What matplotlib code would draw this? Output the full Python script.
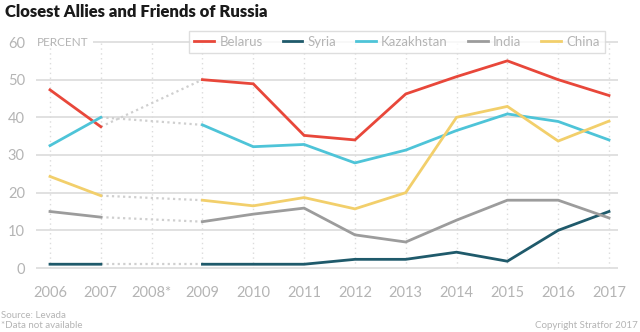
import numpy as np
import matplotlib
matplotlib.use("Agg")
from matplotlib import pyplot as plt

plt.rcParams['font.family'] = ['Lato', 'DejaVu Sans']

years = [2006, 2007, 2008, 2009, 2010, 2011, 2012, 2013, 2014, 2015, 2016, 2017]
year_labels = ['2006', '2007', '2008*', '2009', '2010', '2011', '2012', '2013',
               '2014', '2015', '2016', '2017']
nan = np.nan
belarus = [47.3, 37.5, nan, 50, 48.9, 35.2, 34, 46.2, 50.8, 55, 50, 45.8]
syria = [1, 1, nan, 1, 1, 1, 2.3, 2.3, 4.2, 1.8, 10, 15]
kazakhstan = [32.5, 40, nan, 38, 32.2, 32.8, 27.9, 31.3, 36.5, 40.9, 38.9, 34]
india = [15, 13.5, nan, 12.3, 14.3, 15.9, 8.8, 6.9, 12.7, 18, 18, 13.3]
china = [24.3, 19.2, nan, 18, 16.5, 18.7, 15.7, 20, 40, 42.9, 33.7, 39]

series = [('Belarus', belarus, '#e8473a'),
          ('Syria', syria, '#1f5a6b'),
          ('Kazakhstan', kazakhstan, '#4ec4d8'),
          ('India', india, '#9c9c9c'),
          ('China', china, '#f2cf6b')]

grid_c = '#dcdcdc'
text_c = '#b4b4b4'

fig = plt.figure(figsize=(6.4, 3.32), dpi=100)
ax = fig.add_axes([36 / 640, (332 - 268) / 332, (618 - 36) / 640, (268 - 42) / 332])
x0 = 2006 - 14 / 50.8
x1 = 2017 + 9 / 50.8
ax.set_xlim(x0, x1)
ax.set_ylim(0, 60)
for s in ax.spines.values():
    s.set_visible(False)

# grid
for y in range(0, 60, 10):
    ax.hlines(y, x0, x1, color=grid_c, lw=1.2, zorder=0, clip_on=False)
ax.hlines(60, 2006 + 43 / 50.8, x1, color=grid_c, lw=1.2, zorder=0, clip_on=False)
for yr in years:
    ax.vlines(yr, 0, 60, color=grid_c, lw=1, linestyles=(0, (1, 2.5)), zorder=0)
ax.text(x0 + 1 / 50.8, 60, 'PERCENT', color=text_c, fontsize=8.5, va='center', ha='left')

# lines and missing-data connectors
for name, vals, col in series:
    ax.plot([2007, 2009], [vals[1], vals[3]], color='#cfcfcf', lw=1.6,
            linestyle=(0, (1, 1.5)), zorder=1)
    ax.plot(years, vals, color=col, lw=2, label=name, zorder=2,
            solid_joinstyle='miter', clip_on=False)

ax.set_xticks(years)
ax.set_xticklabels(year_labels)
ax.set_yticks(range(0, 61, 10))
ax.tick_params(length=0, labelsize=10.5, labelcolor=text_c)
ax.tick_params(axis='x', pad=13)
ax.tick_params(axis='y', pad=8)

leg = ax.legend(loc='center', bbox_to_anchor=((397 - 36) / 582, 1.0),
                ncol=5, frameon=True, fancybox=False, fontsize=9.5,
                handlelength=1.5, handletextpad=0.4, columnspacing=1.5,
                borderpad=0.4, labelcolor=text_c)
leg.get_frame().set_edgecolor('#d6d6d6')
leg.get_frame().set_linewidth(1)

fig.text(5 / 640, 1 - 12 / 332, 'Closest Allies and Friends of Russia',
         fontsize=12, fontweight='heavy', color='#1a1a1a', va='center', ha='left')
fig.text(1 / 640, 1 - 315 / 332, 'Source: Levada', fontsize=7, color=text_c,
         va='center', ha='left')
fig.text(1 / 640, 1 - 326 / 332, '*Data not available', fontsize=7, color=text_c,
         va='center', ha='left')
fig.text(638 / 640, 1 - 326 / 332, 'Copyright Stratfor 2017', fontsize=7, color=text_c,
         va='center', ha='right')

fig.savefig('out.png', dpi=100)
